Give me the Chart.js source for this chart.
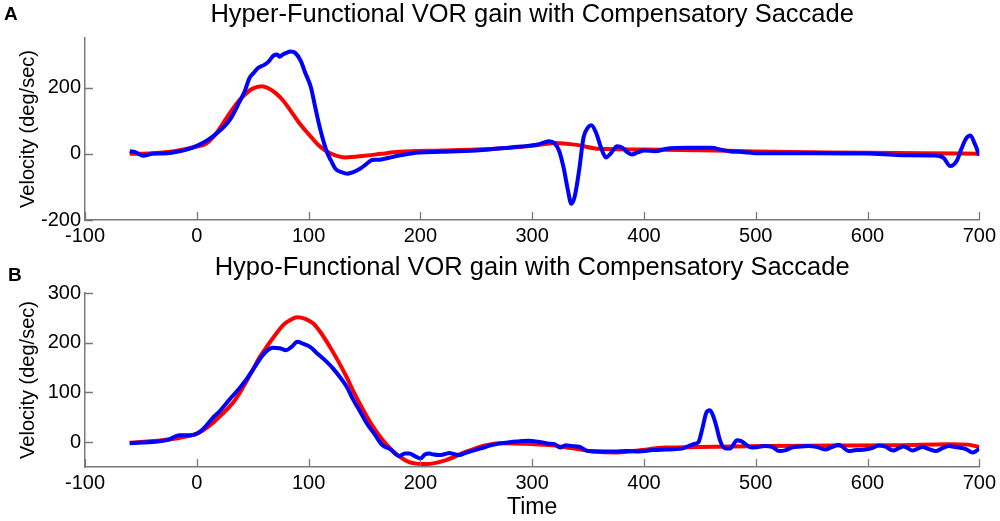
<!DOCTYPE html>
<html>
<head>
<meta charset="utf-8">
<script src="https://cdn.jsdelivr.net/npm/chart.js@4/dist/chart.umd.min.js"></script>
<style>
  html,body{margin:0;padding:0;background:#fff;}
  body{width:1000px;height:521px;position:relative;overflow:hidden;}
  .box{position:absolute;left:0;width:1000px;}
  #boxA{top:0;height:253px;}
  #boxB{top:253px;height:268px;}
</style>
</head>
<body>
<div class="box" id="boxA"><canvas id="chartA"></canvas></div>
<div class="box" id="boxB"><canvas id="chartB"></canvas></div>
<script>
// ---------- Data ----------
const titleA = "Hyper-Functional VOR gain with Compensatory Saccade";
const titleB = "Hypo-Functional VOR gain with Compensatory Saccade";
const xTicks = [-100,0,100,200,300,400,500,600,700];
const yTicksA = [-200,0,200];
const yTicksB = [0,100,200,300];

// Panel A – red (head) trace
const timeRedA = [-60,-40,-20,0,8,17,25,32,38,45,50,58,64,70,77,84,91,97,103,109,115,121,133,150,165,181,220,270,300,320,340,360,400,450,500,550,600,650,700];
const redA     = [0,2,8,22,30,60,100,135,162,185,197,204,198,185,162,130,96,71,48,26,10,-1,-11,-6,0,6,10,16,24,33,27,15,13,11,7,5,3,2,0];

// Panel A – blue (eye) trace
const timeBlueA = [-60,-55,-48,-40,-30,-20,-10,0,10,20,30,38,43,47,51,55,60,64,69,72,74,77,80,84,88,93,97,102,106,110,114,117,120,124,130,135,140,146,152,156,160,165,172,181,190,199,220,250,270,290,305,315,320,324,328,332,335,338,342,346,350,353,357,362,366,370,376,381,385,389,395,400,410,420,440,460,470,476,490,500,550,600,630,660,668,674,680,684,688,692,696,700];
const blueA     = [8,5,-6,0,1,5,12,24,42,68,105,156,190,228,245,260,268,278,298,300,293,300,305,309,305,281,245,202,140,80,30,0,-20,-45,-56,-60,-55,-45,-30,-20,-18,-17,-12,-5,0,4,6,10,16,22,28,38,32,10,-40,-110,-151,-130,-50,50,80,86,65,15,-11,0,23,18,5,-2,5,10,8,15,18,18,12,8,5,2,2,1,-4,-5,-12,-37,-20,15,45,55,30,-5];

// Panel B – red (head) trace
const timeRedB = [-60,-31,-15,0,7,14,22,32,40,50,56,62,70,77,84,90,97,104,111,119,126,134,141,149,156,164,171,178,190,205,223,241,259,270,290,315,335,352,374,395,419,449,508,568,628,673,690,700];
const redB     = [-1,4,9,17,26,38,55,78,105,145,170,190,215,235,246,251,248,239,220,192,165,131,98,64,37,11,-8,-23,-40,-44,-36,-19,-6,-2,-3,-6,-12,-18,-21,-17,-11,-10,-8,-7,-6,-4,-5,-10];

// Panel B – blue (eye) trace
const timeBlueB = [-60,-37,-25,-16,-5,0,6,14,20,29,38,44,50,59,64,68,74,80,85,90,95,101,108,116,122,128,134,140,146,152,159,166,173,181,186,190,195,200,204,208,212,217,222,226,230,235,240,247,255,262,270,280,297,305,315,320,325,330,336,342,350,362,374,385,395,408,419,434,442,446,449,452,456,459,462,465,468,472,477,480,483,487,492,496,502,508,515,521,527,532,540,547,555,562,568,574,578,583,590,598,604,610,616,623,628,632,636,640,645,649,655,661,667,673,678,682,688,694,697,700];
const blueB     = [-2,1,5,14,14,17,27,48,61,85,108,125,145,175,186,190,189,185,192,202,198,192,178,162,148,131,112,85,62,38,16,-6,-14,-28,-23,-23,-28,-33,-25,-23,-25,-26,-24,-22,-24,-26,-22,-17,-12,-7,-3,0,3,1,-3,-4,-11,-6,-8,-9,-18,-19,-19,-18,-19,-16,-15,-13,-6,-3,1,25,60,64,52,30,4,-12,-13,-5,4,2,-6,-11,-10,-8,-10,-18,-16,-11,-9,-8,-10,-15,-10,-5,-10,-18,-16,-15,-12,-7,-9,-17,-12,-9,-12,-17,-13,-10,-14,-18,-12,-8,-10,-11,-14,-21,-18,-13];

// ---------- Helpers ----------
const FONT = "'Liberation Sans', Arial, Helvetica, sans-serif";
const AXIS_COLOR = '#7a7a7a';
const pts = (xs, ys) => xs.map((x, i) => ({x: x, y: ys[i]}));

const inwardTicks = {
  id: 'inwardTicks',
  afterDatasetsDraw(chart) {
    const {ctx, chartArea: a, scales: {x, y}} = chart;
    ctx.save();
    ctx.strokeStyle = AXIS_COLOR;
    ctx.lineWidth = 1.3;
    ctx.beginPath();
    x.ticks.forEach(t => {
      const px = Math.round(x.getPixelForValue(t.value)) + 0.5;
      ctx.moveTo(px, a.bottom);
      ctx.lineTo(px, a.bottom - 8);
    });
    y.ticks.forEach(t => {
      const py = Math.round(y.getPixelForValue(t.value)) + 0.5;
      ctx.moveTo(a.left, py);
      ctx.lineTo(a.left + 8, py);
    });
    ctx.stroke();
    ctx.restore();
  }
};

// Title centred over the plot area (as in the original figure) + panel letter
const panelText = {
  id: 'panelText',
  afterDraw(chart, args, opts) {
    const {ctx, chartArea: a} = chart;
    ctx.save();
    ctx.fillStyle = '#000';
    ctx.font = '25.5px ' + FONT;
    ctx.textAlign = 'center';
    ctx.textBaseline = 'middle';
    ctx.fillText(opts.title, (a.left + a.right) / 2, opts.titleY);
    ctx.font = 'bold 19px ' + FONT;
    ctx.textAlign = 'left';
    ctx.textBaseline = 'alphabetic';
    ctx.fillText(opts.letter, opts.lx, opts.ly);
    ctx.restore();
  }
};

function makeChart(id, cfg) {
  return new Chart(document.getElementById(id), {
    type: 'line',
    data: {
      datasets: [
        {data: pts(cfg.tr, cfg.r), borderColor: '#ff0000', borderWidth: 4, pointRadius: 0, cubicInterpolationMode: 'monotone', order: 2},
        {data: pts(cfg.tb, cfg.b), borderColor: '#0000ff', borderWidth: 4, pointRadius: 0, cubicInterpolationMode: 'monotone', order: 1}
      ]
    },
    options: {
      responsive: true,
      maintainAspectRatio: false,
      animation: false,
      events: [],
      layout: {padding: {left: 0, right: 20, top: cfg.top, bottom: 0}},
      plugins: {
        legend: {display: false},
        tooltip: {enabled: false},
        title: {display: false},
        panelText: cfg.text
      },
      scales: {
        x: {
          type: 'linear', min: -100, max: 700,
          afterBuildTicks: s => { s.ticks = xTicks.map(v => ({value: v})); },
          afterFit: s => { s.height = cfg.xh; },
          grid: {display: true, drawOnChartArea: false, drawTicks: false},
          border: {display: true, color: AXIS_COLOR, width: 1.5},
          ticks: {color: '#000', font: {family: FONT, size: 20}, padding: 4, autoSkip: false, maxRotation: 0},
          title: cfg.xTitle
        },
        y: {
          type: 'linear', min: cfg.ymin, max: cfg.ymax,
          afterBuildTicks: s => { s.ticks = cfg.yt.map(v => ({value: v})); },
          afterFit: s => { s.width = 85; },
          grid: {display: true, drawOnChartArea: false, drawTicks: false},
          border: {display: true, color: AXIS_COLOR, width: 1.5},
          ticks: {color: '#000', font: {family: FONT, size: 20}, padding: 4},
          title: {display: true, text: 'Velocity (deg/sec)', color: '#000',
                  font: {family: FONT, size: 20, lineHeight: 1.2}, padding: {top: 16, bottom: 0}}
        }
      }
    },
    plugins: [inwardTicks, panelText]
  });
}

makeChart('chartA', {
  top: 38, tr: timeRedA, r: redA, tb: timeBlueA, b: blueA,
  ymin: -200, ymax: 350, yt: yTicksA, xh: 33,
  xTitle: {display: false},
  text: {title: titleA, titleY: 15, letter: 'A', lx: 4, ly: 20}
});

makeChart('chartB', {
  top: 40, tr: timeRedB, r: redB, tb: timeBlueB, b: blueB,
  ymin: -50, ymax: 300, yt: yTicksB, xh: 54,
  xTitle: {display: true, text: 'Time', color: '#000', font: {family: FONT, size: 23, lineHeight: 1.2}, padding: {top: 0, bottom: 0}},
  text: {title: titleB, titleY: 15, letter: 'B', lx: 8, ly: 28}
});
</script>
</body>
</html>
